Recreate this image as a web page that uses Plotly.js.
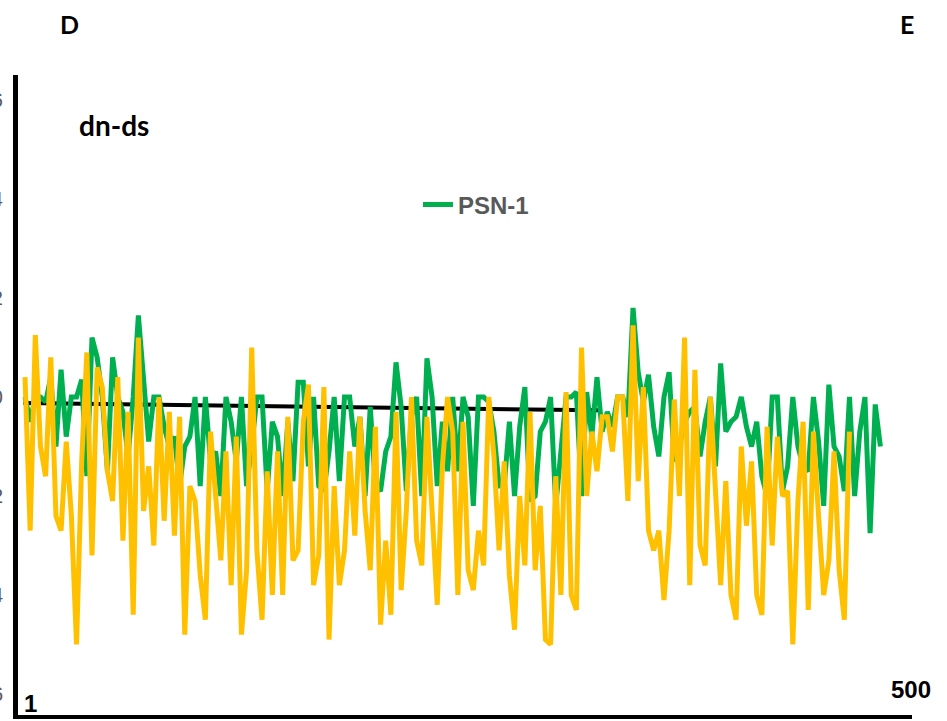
<!DOCTYPE html>
<html>
<head>
<meta charset="utf-8">
<script src="https://cdn.plot.ly/plotly-3.0.1.min.js"></script>
<style>html,body{margin:0;padding:0;background:#fff;}#chart{width:947px;height:721px;}</style>
</head>
<body>
<div id="chart"></div>
<script>
// dn-ds values, sampled every 3rd residue starting at residue 1
var psn1Values = [
 0.00,-0.05,0.00,0.00,-0.01,0.04,-0.10,0.055,-0.08,0.00,
 0.00,0.035,-0.16,0.12,0.08,0.00,-0.15,0.08,0.00,-0.03,
 -0.12,0.00,0.165,0.025,-0.09,0.00,0.00,-0.06,-0.10,-0.08,
 -0.18,-0.10,-0.08,0.00,-0.18,0.00,-0.13,-0.11,-0.20,0.00,
 -0.05,-0.13,0.00,-0.18,-0.10,0.00,0.00,-0.19,-0.05,-0.08,
 -0.20,-0.05,-0.17,0.03,0.03,-0.14,0.00,-0.18,-0.19,-0.11,
 0.00,-0.17,0.00,0.00,-0.10,-0.04,-0.20,-0.02,-0.18,-0.19,
 -0.11,-0.08,0.07,-0.02,-0.19,-0.04,0.00,-0.20,0.078,0.00,
 -0.18,-0.05,-0.15,0.00,-0.15,0.00,-0.04,-0.22,0.00,0.00,
 -0.01,-0.07,-0.18,-0.18,-0.05,-0.20,-0.06,0.02,-0.21,-0.20,
 -0.07,-0.05,0.00,-0.22,-0.10,0.00,0.00,0.01,-0.20,0.01,
 -0.08,0.04,-0.07,-0.03,-0.06,0.00,0.00,-0.04,0.18,0.05,
 -0.01,0.045,-0.06,-0.12,0.00,0.05,-0.13,-0.10,-0.05,-0.03,
 -0.02,-0.12,-0.05,0.00,-0.14,0.068,-0.07,-0.05,-0.04,0.00,
 -0.06,-0.10,-0.05,-0.16,-0.20,0.00,0.00,-0.19,-0.14,0.00,
 -0.10,-0.14,-0.15,0.00,-0.09,-0.22,0.025,-0.10,-0.12,-0.19,
 0.00,-0.20,-0.07,0.00,-0.275,-0.015,-0.10
];
var secondValues = [
 0.04,-0.27,0.125,-0.10,-0.16,0.08,-0.24,-0.27,-0.09,-0.24,
 -0.50,-0.13,0.09,-0.32,0.06,0.02,-0.15,-0.21,0.04,-0.29,
 -0.03,-0.44,0.12,-0.23,-0.14,-0.30,0.00,-0.25,-0.03,-0.28,
 -0.04,-0.48,-0.18,-0.21,-0.36,-0.45,-0.07,-0.21,-0.33,-0.11,
 -0.38,-0.08,-0.48,-0.35,0.10,-0.31,-0.45,-0.15,-0.40,-0.11,
 -0.40,-0.04,-0.33,-0.31,-0.05,0.025,-0.38,-0.32,0.02,-0.49,
 -0.18,-0.38,-0.31,-0.11,-0.28,-0.04,-0.23,-0.35,-0.06,-0.46,
 -0.29,-0.44,-0.03,-0.39,-0.23,0.00,-0.29,-0.34,-0.04,-0.23,
 -0.42,-0.14,0.00,-0.07,-0.40,-0.05,-0.35,-0.39,-0.27,-0.34,
 0.00,-0.12,-0.31,-0.13,-0.36,-0.47,-0.20,-0.34,-0.03,-0.35,
 -0.22,-0.49,-0.50,-0.16,-0.40,0.01,-0.40,-0.43,0.10,-0.20,
 -0.07,-0.15,-0.04,-0.04,-0.11,0.00,0.00,-0.21,0.145,-0.17,
 0.02,-0.27,-0.31,-0.27,-0.41,-0.27,-0.005,-0.20,0.12,-0.38,
 0.055,-0.30,-0.34,0.00,-0.18,-0.38,-0.17,-0.40,-0.45,-0.10,
 -0.26,-0.13,-0.40,-0.44,-0.06,-0.30,-0.08,-0.20,-0.19,-0.50,
 -0.21,-0.05,-0.43,-0.07,-0.24,-0.40,-0.33,-0.11,-0.35,-0.45,
 -0.07
];
// reference (trend) line
var refResidues = [0, 335];
var refValues = [-0.012, -0.027];

var yTickVals = [-0.6, -0.4, -0.2, 0, 0.2, 0.4, 0.6];
var startLabel = '1';
var endLabel = '500';

function residues(n) { var r = []; for (var k = 0; k < n; k++) r.push(1 + 3 * k); return r; }

var traces = [
  {x: refResidues, y: refValues, mode: 'lines', line: {color: '#000000', width: 4}, showlegend: false, hoverinfo: 'skip'},
  {x: residues(psn1Values.length), y: psn1Values, mode: 'lines', name: 'PSN-1', line: {color: '#00B050', width: 5}},
  {x: residues(secondValues.length), y: secondValues, mode: 'lines', name: 'series 2', showlegend: false, line: {color: '#FFC000', width: 5}}
];

var layout = {
  width: 947, height: 721,
  margin: {l: 18, r: 35, t: 75, b: 6, pad: 0},
  paper_bgcolor: '#ffffff', plot_bgcolor: '#ffffff',
  title: {text: 'dn-ds', font: {family: 'Lato', size: 28, color: '#000000', weight: 'bold'},
          x: 79/947, xanchor: 'left', xref: 'container', y: 1 - 126/721, yanchor: 'middle', yref: 'container'},
  xaxis: {range: [-3.08, 517.4], showgrid: false, zeroline: false, showticklabels: false, ticks: '',
          showline: true, linecolor: '#000000', linewidth: 4},
  yaxis: {range: [-0.6424, 0.6505], showgrid: false, zeroline: false, ticks: '', tickvals: yTickVals, tickformat: '.1f',
          ticklabelstandoff: 6,
          tickfont: {family: 'Liberation Sans', size: 20, color: '#595959'},
          showline: true, linecolor: '#000000', linewidth: 5},
  showlegend: true,
  legend: {x: 0.4474, xanchor: 'left', y: 0.797, yanchor: 'middle', bgcolor: 'rgba(0,0,0,0)',
           font: {family: 'Liberation Sans', size: 24, color: '#595959', weight: 'bold'}},
  annotations: [
    {text: startLabel, xref: 'paper', yref: 'paper', x: 0.01454, y: 0.0172, xanchor: 'center', yanchor: 'middle', showarrow: false,
     font: {family: 'Liberation Sans', size: 24, color: '#000000', weight: 'bold'}},
    {text: endLabel, xref: 'paper', yref: 'paper', x: 0.9989, y: 0.0406, xanchor: 'center', yanchor: 'middle', showarrow: false,
     font: {family: 'Liberation Sans', size: 24, color: '#000000', weight: 'bold'}},
    {text: 'D', xref: 'paper', yref: 'paper', x: 0.05705, y: 1.0797, xanchor: 'center', yanchor: 'middle', showarrow: false,
     font: {family: 'Lato', size: 25, color: '#000000', weight: 'bold'}},
    {text: 'E', xref: 'paper', yref: 'paper', x: 0.99441, y: 1.0797, xanchor: 'center', yanchor: 'middle', showarrow: false,
     font: {family: 'Lato', size: 25, color: '#000000', weight: 'bold'}}
  ]
};

Plotly.newPlot('chart', traces, layout, {displayModeBar: false, staticPlot: true});
</script>
</body>
</html>
